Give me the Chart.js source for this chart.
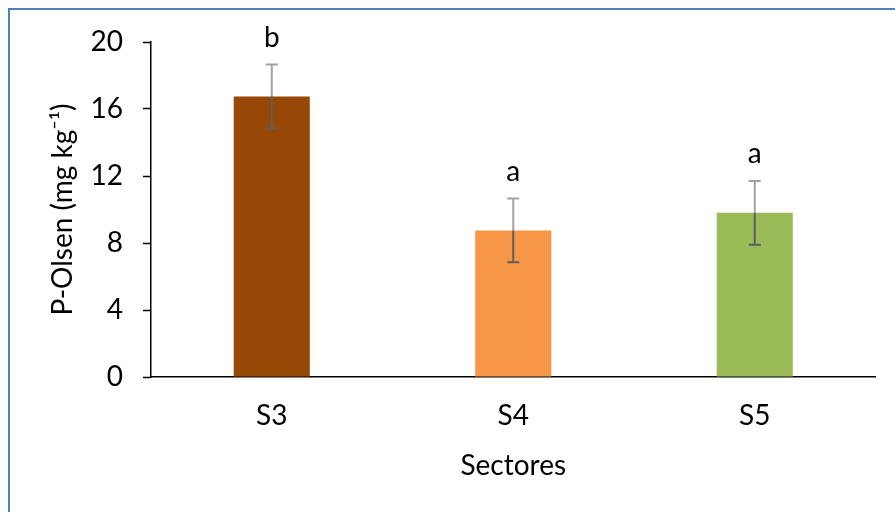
<!DOCTYPE html>
<html>
<head>
<meta charset="utf-8">
<script src="https://cdn.jsdelivr.net/npm/chart.js@4/dist/chart.umd.min.js"></script>
<style>
  html, body { margin: 0; padding: 0; background: #fff; overflow: hidden; }
  #marco { position: absolute; left: 8px; top: 8px; width: 920px; height: 540px;
           border-left: 2px solid #4F81BD; border-top: 2px solid #4F81BD; }
  #wrap { position: absolute; left: 0; top: 0; width: 895px; height: 512px; }
</style>
</head>
<body>
<div id="marco"></div>
<div id="wrap"><canvas id="grafico" width="895" height="512"></canvas></div>
<script>
// datos del grafico
const sectores = ['S3', 'S4', 'S5'];
const pOlsen = [16.75, 8.75, 9.8];
const desvio = [1.9, 1.9, 1.9];
const letras = ['b', 'a', 'a'];
const colores = ['#974706', '#F79646', '#9BBB59'];
const yTicks = [0, 4, 8, 12, 16, 20];

const fuente = 'Lato, "DejaVu Sans", sans-serif';

// barras de error y letras de significancia
const errorBars = {
    id: 'errorBars',
    afterDatasetsDraw(chart) {
        const ctx = chart.ctx;
        const y = chart.scales.y;
        const meta = chart.getDatasetMeta(0);
        ctx.save();
        meta.data.forEach((bar, i) => {
            const x = bar.x;
            const top = y.getPixelForValue(pOlsen[i] + desvio[i]);
            const mid = y.getPixelForValue(pOlsen[i]);
            const bot = y.getPixelForValue(pOlsen[i] - desvio[i]);
            ctx.lineWidth = 2;
            // parte sobre fondo blanco
            ctx.strokeStyle = '#A3A3A3';
            ctx.beginPath();
            ctx.moveTo(x, top); ctx.lineTo(x, mid);
            ctx.moveTo(x - 6, top); ctx.lineTo(x + 6, top);
            ctx.stroke();
            // parte sobre la barra
            ctx.strokeStyle = '#5E5E5E';
            ctx.beginPath();
            ctx.moveTo(x, mid); ctx.lineTo(x, bot);
            ctx.moveTo(x - 6, bot); ctx.lineTo(x + 6, bot);
            ctx.stroke();
            // letra
            ctx.fillStyle = '#000';
            ctx.font = '28px ' + fuente;
            ctx.textAlign = 'center';
            ctx.textBaseline = 'alphabetic';
            ctx.fillText(letras[i], x, top - 18);
        });
        ctx.restore();
    }
};

const ctx = document.getElementById('grafico').getContext('2d');
new Chart(ctx, {
    type: 'bar',
    data: {
        labels: sectores,
        datasets: [{
            data: pOlsen,
            backgroundColor: colores,
            borderWidth: 0,
            barPercentage: 0.315,
            categoryPercentage: 1
        }]
    },
    options: {
        responsive: false,
        animation: false,
        layout: { padding: { left: 46, right: 19.5, top: 42, bottom: 25 } },
        plugins: {
            legend: { display: false },
            tooltip: { enabled: false }
        },
        scales: {
            x: {
                grid: { display: false, drawTicks: false },
                border: { color: '#000', width: 1.5 },
                ticks: { color: '#000', font: { family: fuente, size: 28 }, padding: 22 },
                title: {
                    display: true, text: 'Sectores', color: '#000',
                    font: { family: fuente, size: 28 }, padding: { top: 0, bottom: 4 }
                },
                afterFit(scale) { scale.height = 110; }
            },
            y: {
                min: 0,
                max: 20,
                grid: { drawOnChartArea: false, drawTicks: true, tickLength: 8, color: '#000', tickWidth: 1.5 },
                border: { color: '#000', width: 1.5 },
                ticks: {
                    stepSize: 2,
                    color: '#000',
                    padding: 20,
                    font: { family: fuente, size: 28 },
                    callback: (v) => yTicks.includes(v) ? v : ''
                },
                title: {
                    display: true, text: 'P-Olsen (mg kg⁻¹)', color: '#000',
                    font: { family: fuente, size: 28 }, padding: 0
                },
                afterFit(scale) { scale.width = 105; }
            }
        }
    },
    plugins: [errorBars]
});
</script>
</body>
</html>
